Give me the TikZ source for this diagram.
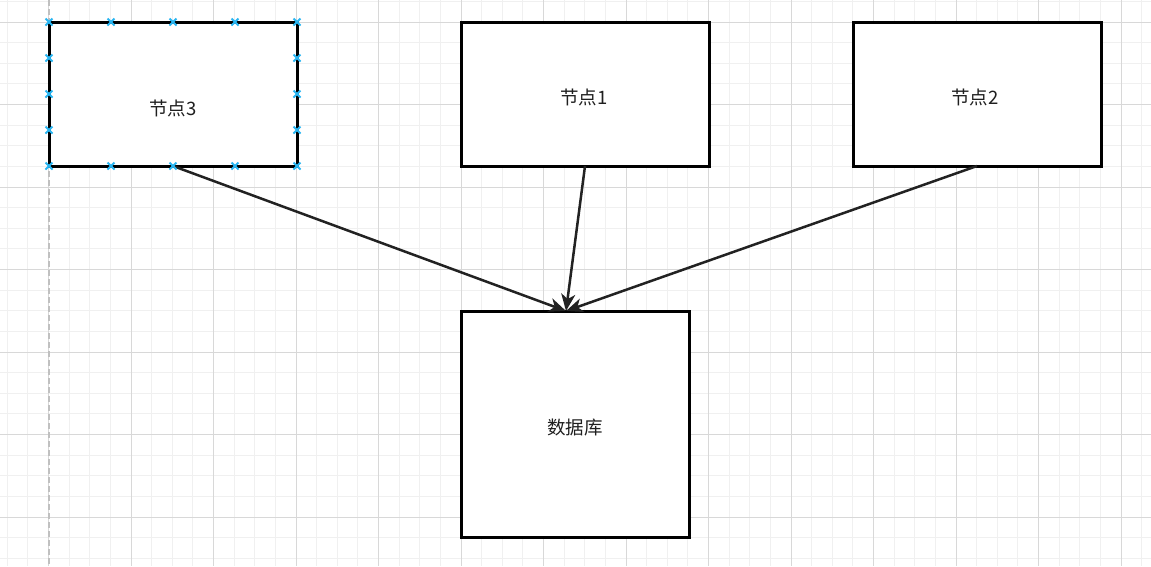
\documentclass[tikz,border=0pt]{standalone}
\usepackage{fontspec}
\newfontfamily\cjk{Noto Sans CJK SC}
\usetikzlibrary{arrows.meta,calc}
\definecolor{minorgrid}{HTML}{F0F0F0}
\definecolor{majorgrid}{HTML}{D8D8D8}
\definecolor{borderdash}{HTML}{C0C0C0}
\definecolor{marker}{HTML}{29B6F2}
\definecolor{edgecol}{HTML}{222222}
\tikzset{
  box/.style={draw=black, line width=3pt, fill=white, inner sep=0pt, outer sep=0pt},
  lbl/.style={font=\cjk\fontsize{18.5}{20}\selectfont, text=black!88, inner sep=0pt},
  conn/.style={draw=edgecol, line width=2.5pt, -{Stealth[length=17pt, width=14pt, inset=5pt]}},
  mk/.style={draw=marker, line width=1.8pt},
}
\begin{document}
\begin{tikzpicture}[x=1pt, y=-1pt]
\useasboundingbox (0,0) rectangle (1151,566);
\fill[white] (0,0) rectangle (1151,566);
% minor grid
\foreach \i in {-3,...,54} {
  \pgfmathsetmacro\xx{48.5+20.625*\i}
  \draw[minorgrid, line width=1pt] (\xx,0) -- (\xx,566);
}
\foreach \j in {-2,...,27} {
  \pgfmathsetmacro\yy{22+20.625*\j}
  \draw[minorgrid, line width=1pt] (0,\yy) -- (1151,\yy);
}
% major grid
\foreach \i in {-1,...,14} {
  \pgfmathsetmacro\xx{48.5+82.5*\i}
  \draw[majorgrid, line width=1pt] (\xx,0) -- (\xx,566);
}
\foreach \j in {-1,...,7} {
  \pgfmathsetmacro\yy{22+82.5*\j}
  \draw[majorgrid, line width=1pt] (0,\yy) -- (1151,\yy);
}
% page border dashed
\draw[borderdash, line width=1.2pt, dash pattern=on 6pt off 3pt] (49,0) -- (49,566);

% nodes
\node[box, minimum width=248pt, minimum height=144pt] (n3) at (173,94) {};
\node[box, minimum width=248pt, minimum height=144pt] (n1) at (585,94) {};
\node[box, minimum width=248pt, minimum height=144pt] (n2) at (977,94) {};
\node[box, minimum width=228pt, minimum height=226pt] (db) at (575,424) {};

\node[lbl] (t3) at (173,108) {节点3};
\node[lbl] (t1) at (584,97) {节点1};
\node[lbl] (t2) at (975,97) {节点2};
\node[lbl] (tdb) at (575,427) {数据库};

\coordinate (dbin) at ($(db.north)+(-9,0)$);
\draw[conn] (n3.south) -- (dbin);
\draw[conn] (n1.south) -- (dbin);
\draw[conn] (n2.south) -- (dbin);

% connection markers on 节点3
\foreach \px/\py in {49/22,111/22,173/22,235/22,297/22,49/166,111/166,173/166,235/166,297/166,49/58,49/94,49/130,297/58,297/94,297/130} {
  \draw[mk] (\px-3.5,\py-3.5) -- (\px+3.5,\py+3.5) (\px-3.5,\py+3.5) -- (\px+3.5,\py-3.5);
}
\end{tikzpicture}
\end{document}
